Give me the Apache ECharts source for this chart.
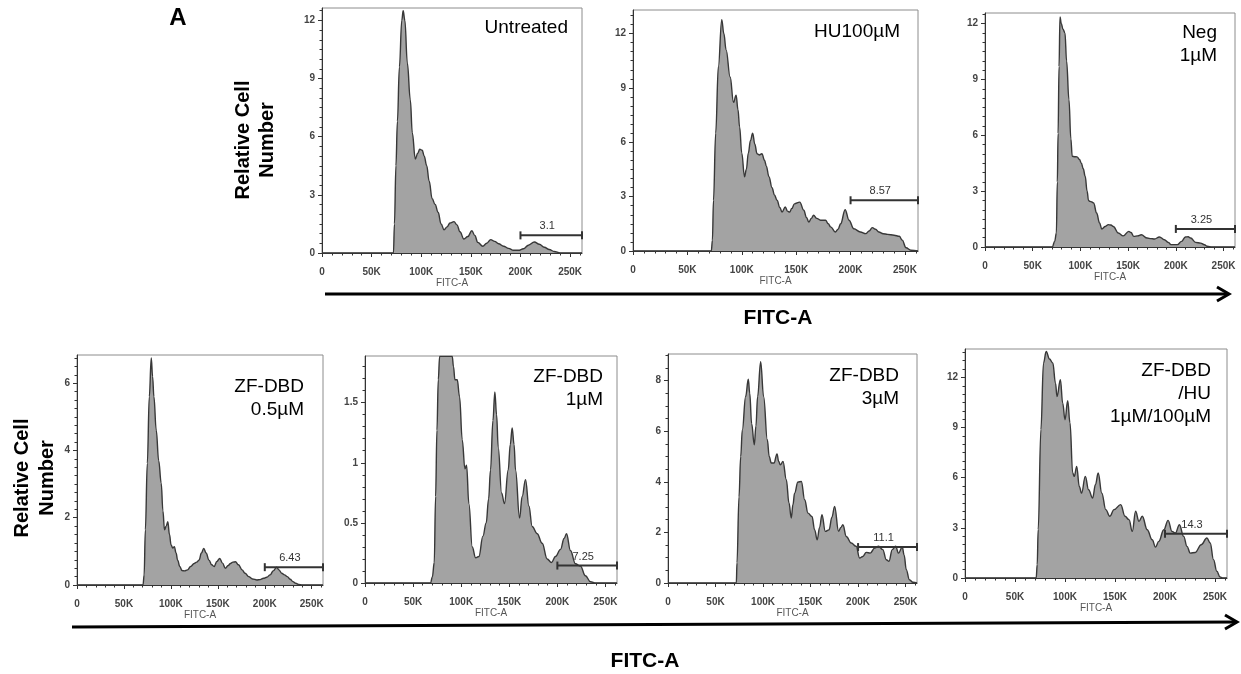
<!DOCTYPE html>
<html>
<head>
<meta charset="utf-8">
<title>FITC-A histograms</title>
<script src="https://cdn.jsdelivr.net/npm/echarts@6.0.0/dist/echarts.min.js"></script>
<style>
  html, body { margin: 0; padding: 0; background: #fff; }
  #chart { width: 1241px; height: 674px; }
</style>
</head>
<body>
<div id="chart"></div>
<script>
// [FITC-A (K), relative cell number]
const untreatedHist = [
  [0, 0], [72, 0], [73, 1.5], [74.5, 4.5], [76, 6.8], [78, 9.6], [80.4, 12.0], [81.8, 12.5], [83.5, 12.0],
  [86, 9.8], [89, 7.9], [91, 6.2], [94, 4.85], [96.5, 5.15], [98.5, 5.35], [101, 5.3], [103, 5.0], [105.5, 4.5],
  [108, 3.7], [111, 2.8], [114, 2.5], [117, 2.1], [120, 1.5], [123, 1.2], [126, 1.35], [129, 1.55], [133, 1.62],
  [136, 1.45], [139, 1.1], [143, 0.72], [147, 0.85], [151, 1.15], [154, 0.9], [157, 0.55], [162, 0.35], [166, 0.5],
  [170, 0.69], [174, 0.6], [178, 0.48], [183, 0.35], [188, 0.24], [193, 0.14], [198, 0.14], [203, 0.22], [208, 0.4],
  [214, 0.57], [219, 0.45], [224, 0.3], [229, 0.18], [234, 0.08], [240, 0], [262, 0]
]
const hu100Hist = [
  [0, 0], [72, 0], [73, 0.6], [74, 2.8], [76, 6.5], [78.5, 10.2], [81.6, 12.77], [83.5, 12.0], [85.6, 11.1],
  [89.3, 9.6], [92.4, 8.2], [94.8, 8.6], [96.5, 7.8], [98, 6.85], [100, 5.4], [102.5, 4.1], [104.2, 4.5], [106, 5.4],
  [108, 6.1], [110, 6.5], [112, 5.9], [114, 5.37], [116, 5.3], [118.5, 5.37], [121, 5.0], [122.5, 4.7], [125, 4.1],
  [127.8, 3.5], [130, 3.1], [132.4, 2.8], [135, 2.4], [137, 2.15], [140, 2.43], [142, 2.2], [144, 2.15], [146, 2.35],
  [148.4, 2.6], [153.3, 2.7], [157, 2.25], [159.5, 1.85], [161.6, 1.6], [164, 1.8], [166, 1.97], [169, 1.8],
  [172.4, 1.7], [177, 1.7], [179.5, 1.5], [181.7, 1.33], [186, 1.05], [188.5, 1.2], [190.9, 1.5], [195, 2.28],
  [198.6, 1.7], [203, 1.23], [209, 1.05], [214, 0.96], [217, 1.1], [220, 1.29], [223, 1.2], [226, 1.05], [230, 0.95],
  [234, 0.92], [240, 0.87], [244.8, 0.81], [247.5, 0.6], [251, 0.18], [255.5, 0.04], [262, 0]
]
const negHist = [
  [0, 0], [70.5, 0], [73, 0.3], [74.8, 0.75], [75.8, 3.5], [76.6, 6.1], [77.6, 9.7], [78.6, 12.36], [80, 12.0],
  [81.7, 11.7], [83.8, 11.5], [85.5, 10.0], [88, 7.9], [90, 5.8], [91.4, 4.87], [94, 4.85], [96.5, 4.84], [99, 4.7],
  [101, 4.5], [103, 4.2], [105, 3.8], [107, 3.0], [108.5, 2.5], [110, 2.45], [112, 2.42], [113.8, 2.36], [117, 1.83],
  [120, 1.3], [122.4, 0.97], [126, 1.1], [129.3, 1.2], [132, 1.18], [134.5, 1.1], [139.7, 0.75], [144.8, 0.6],
  [150.7, 0.84], [153, 0.78], [156, 0.57], [160, 0.6], [163.8, 0.66], [170, 0.48], [174, 0.45], [177.6, 0.43],
  [182.8, 0.54], [188, 0.39], [192, 0.25], [195, 0.13], [201.7, 0.13], [206, 0.3], [210, 0.54], [213, 0.55],
  [215.5, 0.48], [220.7, 0.25], [226, 0.21], [230, 0.12], [232.8, 0.04], [238, 0], [262, 0]
]
const zf05Hist = [
  [0, 0], [70.3, 0], [71.5, 0.3], [72.8, 1.64], [74.9, 3.62], [77, 5.6], [79.1, 6.75], [80.5, 6.2], [81.9, 5.6],
  [84.4, 4.6], [87, 3.7], [89.7, 3.03], [91.5, 2.2], [93.2, 1.64], [95, 1.75], [96.7, 1.88], [98.5, 1.5],
  [100.2, 1.19], [102, 1.1], [103.7, 1.14], [105.5, 0.95], [107.2, 0.74], [109.5, 0.55], [111.8, 0.43],
  [114.5, 0.42], [117.8, 0.45], [121, 0.55], [124.8, 0.64], [127.5, 0.68], [130, 0.74], [132.5, 0.95], [135, 1.09],
  [137.5, 0.95], [140.6, 0.74], [143.5, 0.6], [146, 0.55], [149, 0.7], [152, 0.79], [155, 0.65], [158, 0.5],
  [161, 0.58], [163.5, 0.64], [166, 0.68], [168.8, 0.69], [172, 0.6], [175.8, 0.45], [179, 0.35], [182.8, 0.25],
  [187, 0.18], [191.6, 0.15], [195, 0.16], [198.7, 0.2], [202, 0.23], [205.7, 0.3], [209, 0.42], [212.7, 0.53],
  [215, 0.45], [218, 0.35], [221, 0.3], [224, 0.25], [227, 0.17], [230, 0.1], [233, 0.05], [236, 0.02], [240, 0],
  [262, 0]
]
const zf1Hist = [
  [0, 0], [68.2, 0], [70, 0.05], [72, 0.17], [73.4, 0.72], [74.8, 1.27], [76.2, 1.69], [77.6, 1.885],
  [90.7, 1.885], [92, 1.8], [93.5, 1.69], [95.9, 1.69], [98.3, 1.55], [101.1, 1.19], [103.9, 0.95], [105.6, 0.98],
  [108, 0.66], [111.5, 0.3], [115, 0.21], [118.4, 0.22], [122.6, 0.39], [126, 0.5], [128.5, 0.7], [130.5, 0.94],
  [133, 1.35], [135, 1.59], [136.8, 1.4], [138.5, 1.13], [142, 0.75], [145, 0.66], [148.9, 0.94], [151, 1.15],
  [153, 1.29], [155, 1.15], [156.5, 0.94], [160.7, 0.54], [163.4, 0.72], [166.9, 0.86], [170.4, 0.64],
  [173.8, 0.47], [179, 0.41], [184.2, 0.33], [189.4, 0.2], [193.9, 0.17], [198, 0.22], [203.3, 0.28], [207, 0.37],
  [209.5, 0.41], [213.6, 0.27], [218.8, 0.16], [224, 0.14], [229.2, 0.06], [234.4, 0.01], [240, 0], [262, 0]
]
const zf3Hist = [
  [0, 0], [71.9, 0], [72.6, 0.8], [74.7, 3.4], [76.5, 5.0], [78.2, 6.05], [81.7, 7.37], [84.5, 8.05], [86, 7.5],
  [88, 6.3], [90.8, 5.46], [92.5, 6.2], [94.3, 7.37], [97.5, 8.75], [100.6, 7.37], [104.5, 5.66], [106.5, 5.0],
  [108.7, 4.74], [111.5, 4.74], [114.7, 5.1], [116.5, 4.8], [118.2, 4.67], [121, 4.8], [124.5, 4.08], [127.3, 3.16],
  [129.7, 2.57], [131.5, 3.1], [133.2, 3.55], [136.7, 3.99], [140.3, 4.01], [143.8, 3.29], [147.3, 2.76],
  [151.5, 2.63], [154.3, 2.1], [157, 1.71], [159.5, 2.2], [162, 2.7], [165.5, 2.04], [169.4, 2.1], [172.5, 2.6],
  [175.3, 3.03], [179.5, 2.04], [182, 2.2], [184, 2.3], [187.6, 1.84], [192.8, 1.58], [198, 1.45], [201.6, 0.99],
  [205, 1.05], [208.6, 1.21], [212.8, 1.18], [217.4, 1.38], [221.6, 1.45], [226, 1.32], [229.7, 0.92],
  [232.5, 0.86], [236, 1.32], [239.5, 1.45], [242.6, 1.18], [246.5, 1.42], [248.5, 1.1], [250.7, 0.53],
  [254, 0.13], [257.7, 0.03], [262, 0]
]
const zfHuHist = [
  [0, 0], [71.2, 0], [72.2, 0.8], [73.2, 2.9], [75.9, 8.87], [78.5, 12.86], [81.2, 13.55], [84.5, 13.1],
  [87.8, 12.86], [90.5, 11.66], [92, 10.86], [95.4, 11.86], [97.7, 10.46], [100, 9.47], [102.7, 10.6], [105, 9.27],
  [107.7, 6.28], [109.3, 6.08], [111.7, 6.68], [114.3, 5.48], [116.6, 5.08], [120.3, 6.08], [123.6, 5.28],
  [127.6, 4.78], [130.5, 5.6], [133.2, 6.28], [136.8, 5.08], [140.8, 4.09], [144.8, 3.69], [149, 4.09],
  [155.7, 4.39], [160, 3.69], [164, 3.49], [167.3, 2.79], [170.6, 3.99], [174, 3.39], [177.3, 3.69], [182.2, 2.89],
  [187.2, 2.29], [190.5, 1.85], [193.8, 2.19], [198.8, 2.89], [203.1, 3.45], [207, 2.79], [210.4, 2.69],
  [214.4, 3.19], [218.7, 2.49], [222, 1.89], [225.3, 1.49], [230.3, 1.53], [236.2, 1.99], [241.9, 2.39],
  [245.2, 2.09], [248.5, 1.1], [251.8, 0.4], [255.1, 0.06], [258, 0], [262, 0]
]

const panelTitles = ['Untreated', 'HU100µM', 'Neg\n1µM', 'ZF-DBD\n0.5µM', 'ZF-DBD\n1µM', 'ZF-DBD\n3µM', 'ZF-DBD\n/HU\n1µM/100µM']
const fitcTicks = [0, 50, 100, 150, 200, 250]
const fitcMax = 262
const yTicks = [
  [0, 3, 6, 9, 12], [0, 3, 6, 9, 12], [0, 3, 6, 9, 12],
  [0, 2, 4, 6], [0, 0.5, 1, 1.5], [0, 2, 4, 6, 8], [0, 3, 6, 9, 12]
]
const yMax = [12.64, 13.3, 12.57, 6.84, 1.888, 9.05, 13.7]
const yMinorStep = [0.5, 0.5, 0.5, 0.25, 0.1, 0.5, 0.5]
const gateRange = [200, 262]
const gateLevels = [0.91, 2.8, 0.97, 0.53, 0.145, 1.42, 2.65]
const gateLabels = ['3.1', '8.57', '3.25', '6.43', '7.25', '11.1', '14.3']

const hists = [untreatedHist, hu100Hist, negHist, zf05Hist, zf1Hist, zf3Hist, zfHuHist]

// plot boxes in pixels
const boxes = [
  { left: 322, top: 8, width: 260, height: 245 },
  { left: 633, top: 10, width: 285, height: 241 },
  { left: 985, top: 13, width: 250, height: 234 },
  { left: 77, top: 355, width: 246, height: 230 },
  { left: 365, top: 356, width: 252, height: 227 },
  { left: 668, top: 354, width: 249, height: 229 },
  { left: 965, top: 349, width: 262, height: 229 }
]
// right edge and vertical centre of each panel title
const titlePos = [[568, 28], [900, 32], [1217, 44], [304, 398], [603, 388], [899, 387], [1211, 394]]

const font = '"Liberation Sans", Arial, sans-serif'
const dark = '#333'
const tickText = { fontSize: 10, fontWeight: 'bold', color: '#444', fontFamily: font }

function steps(max, step) {
  const out = []
  for (let v = 0; v <= max + 1e-9; v += step) out.push(Math.round(v * 1000) / 1000)
  return out
}

const grids = []
const xAxes = []
const yAxes = []
const series = []

boxes.forEach((box, i) => {
  grids.push(Object.assign({ show: true, borderColor: '#8c8c8c', borderWidth: 1, backgroundColor: 'transparent' }, box))

  xAxes.push({
    gridIndex: i, type: 'value', position: 'bottom', min: 0, max: fitcMax, interval: 50,
    axisLine: { show: true, onZero: false, lineStyle: { color: dark, width: 1 } },
    axisTick: { show: true, length: 4, customValues: fitcTicks, lineStyle: { color: dark } },
    axisLabel: Object.assign({
      customValues: fitcTicks, margin: 14,
      formatter: v => (v % 50 !== 0 ? '' : v === 0 ? '0' : v + 'K')
    }, tickText),
    splitLine: { show: false },
    name: 'FITC-A', nameLocation: 'middle', nameGap: 25,
    nameTextStyle: { fontSize: 10, color: '#555', fontFamily: font }
  })
  xAxes.push({
    gridIndex: i, type: 'value', position: 'bottom', min: 0, max: fitcMax,
    axisLine: { show: false, onZero: false },
    axisTick: { show: true, length: 2.5, customValues: steps(260, 10), lineStyle: { color: dark } },
    axisLabel: { show: false },
    splitLine: { show: false }
  })

  const ticks = yTicks[i]
  const step = ticks[1] - ticks[0]
  yAxes.push({
    gridIndex: i, type: 'value', position: 'left', min: 0, max: yMax[i], interval: step,
    axisLine: { show: true, onZero: false, lineStyle: { color: dark, width: 1 } },
    axisTick: { show: true, length: 4, customValues: ticks, lineStyle: { color: dark } },
    axisLabel: Object.assign({
      customValues: ticks, margin: 7,
      formatter: v => (ticks.some(t => Math.abs(t - v) < 1e-6) ? String(v) : '')
    }, tickText),
    splitLine: { show: false }
  })
  yAxes.push({
    gridIndex: i, type: 'value', position: 'left', min: 0, max: yMax[i],
    axisLine: { show: false, onZero: false },
    axisTick: { show: true, length: 2.5, customValues: steps(yMax[i], yMinorStep[i]), lineStyle: { color: dark } },
    axisLabel: { show: false },
    splitLine: { show: false }
  })

  series.push({
    type: 'line', xAxisIndex: 2 * i, yAxisIndex: 2 * i,
    data: hists[i], showSymbol: false, smooth: 0.4, smoothMonotone: 'x',
    lineStyle: { color: '#383838', width: 1.4 },
    areaStyle: { color: '#a3a3a3', opacity: 1 },
    silent: true, z: 2
  })

  const label = gateLabels[i]
  series.push({
    type: 'custom', xAxisIndex: 2 * i, yAxisIndex: 2 * i, clip: false, z: 5,
    data: [[gateRange[0], gateRange[1], gateLevels[i]]],
    renderItem(params, api) {
      const a = api.coord([api.value(0), api.value(2)])
      const b = api.coord([api.value(1), api.value(2)])
      const st = { stroke: dark, lineWidth: 2 }
      return {
        type: 'group',
        children: [
          { type: 'line', shape: { x1: a[0], y1: a[1], x2: b[0], y2: b[1] }, style: st },
          { type: 'line', shape: { x1: a[0], y1: a[1] - 4, x2: a[0], y2: a[1] + 4 }, style: st },
          { type: 'line', shape: { x1: b[0], y1: b[1] - 4, x2: b[0], y2: b[1] + 4 }, style: st },
          {
            type: 'text', x: (a[0] + b[0]) / 2 - 4, y: a[1] - 9,
            style: { text: label, fill: dark, fontSize: 11, fontFamily: font, align: 'center', verticalAlign: 'middle' }
          }
        ]
      }
    }
  })
})

const graphic = [
  { type: 'text', x: 178, y: 18, style: { text: 'A', fill: '#000', fontSize: 24, fontWeight: 'bold', fontFamily: font, align: 'center', verticalAlign: 'middle' } },
  {
    type: 'text', x: 255, y: 140, rotation: Math.PI / 2,
    style: { text: 'Relative Cell\nNumber', fill: '#000', fontSize: 20, fontWeight: 'bold', fontFamily: font, align: 'center', verticalAlign: 'middle', lineHeight: 24 }
  },
  {
    type: 'text', x: 35, y: 478, rotation: Math.PI / 2,
    style: { text: 'Relative Cell\nNumber', fill: '#000', fontSize: 20, fontWeight: 'bold', fontFamily: font, align: 'center', verticalAlign: 'middle', lineHeight: 25 }
  },
  { type: 'text', x: 778, y: 318, style: { text: 'FITC-A', fill: '#000', fontSize: 21, fontWeight: 'bold', fontFamily: font, align: 'center', verticalAlign: 'middle' } },
  { type: 'text', x: 645, y: 661, style: { text: 'FITC-A', fill: '#000', fontSize: 21, fontWeight: 'bold', fontFamily: font, align: 'center', verticalAlign: 'middle' } },
  // arrows under each row
  { type: 'line', shape: { x1: 325, y1: 294, x2: 1228, y2: 294 }, style: { stroke: '#000', lineWidth: 3 } },
  { type: 'polyline', shape: { points: [[1217, 287], [1229, 294], [1217, 301]] }, style: { stroke: '#000', lineWidth: 3, fill: null } },
  { type: 'line', shape: { x1: 72, y1: 627, x2: 1236, y2: 622 }, style: { stroke: '#000', lineWidth: 3 } },
  { type: 'polyline', shape: { points: [[1225, 615], [1237, 622], [1225, 629]] }, style: { stroke: '#000', lineWidth: 3, fill: null } }
]

panelTitles.forEach((t, i) => {
  graphic.push({
    type: 'text', x: titlePos[i][0], y: titlePos[i][1],
    style: { text: t, fill: '#000', fontSize: 19, fontFamily: font, align: 'right', verticalAlign: 'middle', lineHeight: 23 }
  })
})

const chart = echarts.init(document.getElementById('chart'))
chart.setOption({
  animation: false,
  backgroundColor: '#fff',
  grid: grids,
  xAxis: xAxes,
  yAxis: yAxes,
  series: series,
  graphic: graphic
})
</script>
</body>
</html>
